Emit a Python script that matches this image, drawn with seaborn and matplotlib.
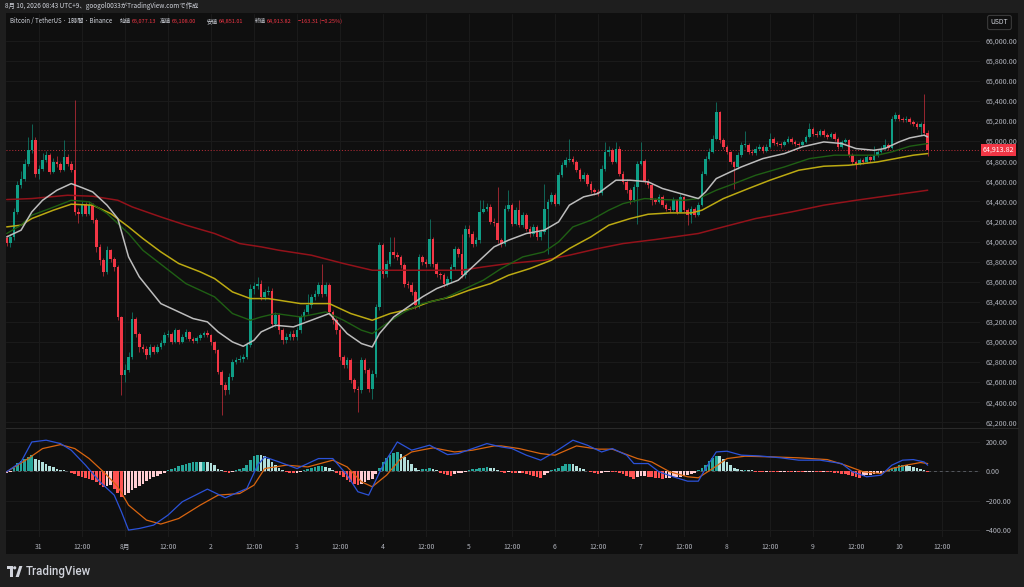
import matplotlib
matplotlib.use("Agg")
import numpy as np
import seaborn as sns
from matplotlib import pyplot as plt
from matplotlib.patches import Rectangle, Circle, Polygon

# ---- hourly candles, hours counted from 7/31 00:00 (UTC+9) ----
FIRST_HOUR = -9
FIRST_OPEN = 64040

CLOSES = [
    63990, 64046, 64295, 64561, 64627, 64777, 64909, 65009, 64677,
    64727, 64810, 64860, 64694, 64793, 64770, 64717, 64843, 64777, 64717, 64295, 64279,
    64362, 64279, 64362, 64212, 63947, 63814, 63698, 63913, 63830, 63748, 63249, 62668,
    62718, 62851, 63233, 63083, 62951, 62934, 62868, 62950, 62900, 62950, 62990, 63067,
    63083, 63000, 63116, 63000, 63050, 63100, 63030, 63010, 63040, 63070, 63090, 63070,
    63000, 62917, 62702, 62569, 62519, 62652, 62801, 62824, 62834, 62851, 62967, 63532,
    63560, 63581, 63448, 63498, 63510, 63183, 63266, 63117, 63017, 63050, 63083, 63050,
    63116, 63249, 63299, 63366, 63448, 63482, 63565, 63482, 63565, 63299, 63216, 63117,
    62851, 62768, 62818, 62619, 62536, 62519, 62818, 62718, 62536, 62685, 63349, 63963,
    63681, 63781, 63897, 63864, 63847, 63764, 63581, 63570, 63498, 63366, 63847, 63800,
    63780, 64030, 63781, 63681, 63665, 63581, 63631, 63747, 63930, 63880, 63664, 64129,
    64080, 63980, 64013, 64295, 64328, 64345, 64196, 64180, 64013, 63980, 64328, 64362,
    64179, 64312, 64162, 64262, 64129, 64080, 64146, 64046, 64096, 64328, 64395, 64461,
    64378, 64660, 64760, 64810, 64826, 64793, 64710, 64627, 64660, 64577, 64510, 64494,
    64480, 64727, 64893, 64910, 64793, 64926, 64677, 64594, 64511, 64411, 64544, 64777,
    64800, 64594, 64560, 64411, 64395, 64445, 64362, 64328, 64312, 64411, 64295, 64445,
    64312, 64262, 64328, 64262, 64362, 64677, 64826, 64893, 65026, 65291, 65009, 64943,
    64893, 64793, 64743, 64860, 64959, 64965, 64893, 64880, 64926, 64943, 64900, 64943,
    65026, 64980, 64976, 64960, 64990, 65026, 64995, 64970, 64960, 64990, 65042, 65125,
    65075, 65060, 65100, 65060, 65042, 65075, 65026, 64943, 64993, 65010, 64860, 64793,
    64777, 64810, 64790, 64843, 64815, 64860, 64893, 64926, 64960, 64930, 65225, 65258,
    65225, 65210, 65225, 65192, 65175, 65142, 65175, 65077, 64913.82,
]

HIGHS = [
    64070, 64080, 64330, 64600, 64700, 64820, 65042, 65175, 65040,
    64760, 64880, 64900, 64880, 64830, 64850, 64790, 65009, 64870, 64800, 65407, 64330,
    64400, 64390, 64400, 64380, 64230, 63980, 63840, 63960, 63930, 63850, 63770, 63260,
    62780, 62900, 63300, 63250, 63100, 62980, 62960, 62980, 62970, 62980, 63020, 63100,
    63120, 63100, 63140, 63130, 63080, 63130, 63110, 63050, 63060, 63090, 63110, 63120,
    63080, 63010, 62930, 62720, 62600, 62690, 62830, 62850, 62870, 62880, 63000, 63580,
    63600, 63650, 63620, 63530, 63560, 63540, 63300, 63290, 63140, 63090, 63110, 63120,
    63150, 63280, 63330, 63480, 63480, 63520, 63600, 63780, 63600, 63590, 63320, 63240,
    63140, 62870, 62850, 62840, 62640, 62560, 62850, 62840, 62740, 62720, 63380, 64000,
    63990, 63820, 64046, 64046, 63900, 63870, 63790, 63610, 63600, 63520, 63880, 63870,
    63830, 64229, 64050, 63800, 63700, 63690, 63660, 63780, 63960, 63950, 64080, 64160,
    64160, 64100, 64050, 64411, 64411, 64380, 64370, 64230, 64544, 64040, 64360, 64511,
    64380, 64340, 64411, 64290, 64280, 64150, 64170, 64160, 64120, 64577, 64420, 64490,
    64480, 64690, 64790, 64840, 65026, 64850, 64810, 64730, 64690, 64680, 64600, 64530,
    64520, 64760, 64992, 64950, 64930, 64990, 64950, 64700, 64620, 64530, 64570, 64800,
    64992, 64820, 64620, 64580, 64430, 64470, 64460, 64380, 64350, 64440, 64420, 64470,
    64450, 64330, 64350, 64340, 64390, 64700, 64850, 64930, 65060, 65391, 65300, 65030,
    64960, 64900, 64800, 64890, 64990, 65100, 64980, 64920, 64950, 64970, 64960, 64970,
    65080, 65040, 65000, 64990, 65010, 65050, 65040, 65010, 64990, 65010, 65060, 65182,
    65140, 65100, 65120, 65120, 65080, 65090, 65090, 65040, 65010, 65030, 65020, 64880,
    64810, 64830, 64830, 64860, 64850, 64950, 64920, 64950, 65020, 64980, 65250, 65290,
    65270, 65240, 65250, 65240, 65210, 65190, 65190, 65470, 65108,
]

LOWS = [
    63960, 63950, 64020, 64270, 64530, 64600, 64750, 64880, 64640,
    64620, 64700, 64790, 64670, 64680, 64740, 64690, 64700, 64750, 64690, 64260, 64180,
    64250, 64250, 64260, 64180, 63900, 63770, 63660, 63680, 63800, 63710, 63220, 62469,
    62600, 62700, 62830, 63050, 62900, 62900, 62830, 62850, 62880, 62890, 62930, 62970,
    63050, 62980, 62990, 62980, 62990, 63030, 63010, 62990, 62990, 63020, 63050, 63050,
    62970, 62890, 62680, 62270, 62470, 62480, 62620, 62780, 62800, 62800, 62830, 62950,
    63480, 63530, 63420, 63420, 63470, 63150, 63150, 63080, 62980, 62990, 63020, 63020,
    63020, 63090, 63220, 63280, 63340, 63420, 63460, 63450, 63460, 63270, 63180, 63080,
    62820, 62740, 62740, 62590, 62500, 62303, 62490, 62690, 62500, 62436, 62650, 63320,
    63640, 63650, 63760, 63840, 63820, 63740, 63550, 63540, 63470, 63330, 63340, 63770,
    63750, 63760, 63750, 63650, 63630, 63550, 63560, 63600, 63720, 63850, 63640, 63640,
    64050, 63950, 63960, 63990, 64280, 64300, 64170, 64150, 63990, 63950, 63960, 64300,
    64150, 64160, 64140, 64140, 64100, 64050, 64060, 64020, 64020, 64080, 63880, 64370,
    64350, 64360, 64640, 64740, 64790, 64770, 64690, 64600, 64600, 64550, 64480, 64460,
    64450, 64460, 64700, 64850, 64770, 64780, 64650, 64570, 64480, 64378, 64390, 64179,
    64760, 64570, 64530, 64360, 64370, 64380, 64340, 64300, 64290, 64300, 64270, 64290,
    64290, 64162, 64180, 64240, 64250, 64350, 64660, 64810, 64880, 65010, 64980, 64920,
    64870, 64770, 64528, 64720, 64840, 64940, 64870, 64860, 64860, 64910, 64880, 64890,
    64930, 64960, 64950, 64930, 64950, 64980, 64970, 64950, 64940, 64950, 64980, 65030,
    65050, 65040, 65050, 65040, 65020, 65030, 65000, 64920, 64930, 64980, 64840, 64770,
    64727, 64760, 64770, 64780, 64790, 64800, 64840, 64880, 64910, 64910, 64920, 65200,
    65200, 65190, 65190, 65170, 65150, 65120, 65060, 65060, 64851,
]

# moving averages (hour, price)
WHITE_HOURS = [-9, -5, -2, 1, 5, 9, 12, 15, 19, 22, 25, 28, 34, 38, 43, 47, 50, 54, 57, 60,
               62, 66, 71, 76, 81, 86, 90, 93, 95, 99, 103, 107, 111, 117, 122, 127, 131, 136,
               141, 145, 148, 152, 156, 161, 165, 170, 174, 179, 184, 186, 189, 193, 196, 202,
               208, 213, 219, 224, 228, 233, 236, 240, 243, 247, 248]
WHITE_VALUES = [64046, 64113, 64295, 64411, 64511, 64577, 64537, 64494, 64362, 64229, 63847,
                63648, 63382, 63316, 63233, 63200, 63100, 63000, 62957, 63017, 63100, 63166,
                63150, 63216, 63283, 63083, 62984, 62950, 63083, 63249, 63349, 63449, 63532,
                63615, 63781, 63947, 64013, 64080, 64113, 64196, 64362, 64445, 64478, 64611,
                64611, 64594, 64528, 64478, 64428, 64494, 64627, 64694, 64743, 64826, 64876,
                64943, 64992, 64976, 64926, 64909, 64926, 64992, 65032, 65059, 65042]

GREEN_HOURS = [-9, -5, -2, 3, 9, 14, 19, 25, 29, 35, 41, 49, 54, 59, 62, 66, 73, 80, 85, 90,
               93, 97, 102, 107, 113, 118, 124, 129, 135, 141, 145, 149, 154, 159, 163, 169,
               174, 180, 184, 189, 194, 200, 208, 215, 222, 228, 234, 238, 243, 248]
GREEN_VALUES = [64080, 64163, 64262, 64328, 64411, 64395, 64279, 64080, 63913, 63747, 63581,
                63449, 63283, 63216, 63249, 63283, 63249, 63299, 63216, 63117, 63083, 63183,
                63299, 63382, 63432, 63515, 63615, 63731, 63847, 63897, 63996, 64146, 64212,
                64312, 64378, 64428, 64418, 64411, 64428, 64511, 64577, 64660, 64743, 64826,
                64860, 64860, 64860, 64893, 64949, 64976]

YELLOW_HOURS = [-9, -5, -2, 4, 9, 15, 20, 25, 29, 34, 39, 45, 49, 54, 59, 64, 73, 81, 87, 93,
                98, 104, 109, 115, 120, 126, 131, 137, 143, 148, 154, 159, 165, 170, 176, 182,
                185, 191, 198, 204, 212, 219, 226, 234, 239, 244, 248]
YELLOW_VALUES = [64146, 64163, 64229, 64312, 64372, 64362, 64279, 64146, 64030, 63897, 63781,
                 63698, 63631, 63498, 63432, 63432, 63382, 63382, 63283, 63216, 63283, 63332,
                 63399, 63449, 63515, 63581, 63664, 63731, 63814, 63930, 64046, 64163, 64229,
                 64272, 64285, 64285, 64312, 64428, 64528, 64611, 64710, 64750, 64760, 64793,
                 64826, 64860, 64876]

RED_HOURS = [-9, -2, 8, 15, 22, 26, 34, 41, 49, 56, 62, 67, 76, 85, 93, 101, 110, 118, 124,
             131, 141, 148, 156, 163, 172, 184, 191, 200, 210, 219, 228, 238, 248]
RED_VALUES = [64418, 64428, 64461, 64451, 64411, 64345, 64245, 64163, 64080, 63980, 63947,
              63913, 63864, 63781, 63714, 63714, 63714, 63714, 63747, 63781, 63814, 63864,
              63930, 63980, 64020, 64080, 64146, 64229, 64295, 64362, 64411, 64461, 64511]

# MACD pane
MACD_HOURS = [-9, -5, -2, 2, 6, 9, 13, 17, 21, 23, 25, 28, 32, 36, 40, 47, 52, 58, 61, 63, 67,
              72, 78, 82, 86, 89, 92, 96, 100, 104, 109, 114, 117, 121, 125, 129, 132, 136,
              140, 144, 149, 153, 157, 160, 164, 166, 170, 173, 177, 181, 184, 186, 189, 192,
              196, 201, 207, 212, 218, 224, 227, 231, 235, 238, 241, 244, 247, 248]
MACD_VALUES = [-4, 63, 199, 211, 188, 143, 41, -72, -163, -276, -401, -390, -367, -299, -208,
               -122, -181, -118, 41, 97, 63, 18, 86, 86, -27, -140, -163, 40, 199, 143, 177,
               113, 120, 154, 188, 165, 154, 109, 75, 131, 211, 177, 131, 154, 109, 52, 52, -4,
               -38, -68, -68, 18, 131, 136, 109, 104, 91, 75, 75, 52, -4, -38, -27, 41, 75, 79,
               63, 41]

SIGNAL_HOURS = [-9, -3, 1, 6, 10, 14, 18, 22, 25, 30, 34, 39, 45, 50, 56, 60, 63, 69, 75, 82,
                86, 90, 93, 97, 101, 104, 110, 116, 121, 127, 129, 134, 140, 144, 150, 156,
                160, 167, 171, 176, 181, 184, 188, 192, 197, 205, 212, 220, 225, 230, 235,
                238, 242, 246, 248]
SIGNAL_VALUES = [-4, 86, 154, 181, 154, 86, -4, -106, -231, -333, -360, -322, -231, -163, -152,
                 -95, 18, 41, 29, 75, 29, -72, -106, -27, 86, 131, 159, 131, 143, 172, 172, 154,
                 120, 109, 172, 150, 150, 86, 63, -4, -38, -45, 18, 86, 102, 97, 91, 79, 41, -4,
                 -16, 18, 41, 59, 52]

HIST = [
    -9, -5, 23, 57, 68, 86, 97, 109, 86,
    75, 63, 52, 36, 29, 18, 11, 7, 2, -10, -20, -30, -38, -45, -55, -62, -75, -95, -105,
    -100, -95, -120, -150, -175,
    -165, -150, -130, -115, -100, -85, -70, -55, -40, -30, -20, -10, 5, 15, 25, 35, 45, 52,
    58, 62, 63, 62, 62, 60,
    55, 40, 15, 5, -8, -12, -5, 10, 18, 25, 40, 75, 105, 113, 110, 100, 85, 65, 45, 25, 10,
    -5, -10, -15,
    -12, -5, 8, 15, 22, 28, 32, 35, 30, 20, 10, -10, -25, -40, -60, -75, -90, -95, -90, -75,
    -60, -55, -20, 20,
    60, 90, 110, 125, 130, 115, 95, 75, 50, 25, 10, 15, 18, 20, 18, 10, -10, -18, -25, -30,
    -20, -15, -10, -5,
    8, 12, 18, 22, 25, 28, 25, 20, 7, -5, -12, -8, -10, -12, -10, -15, -20, -25, -32, -40,
    -45, -25, -10, 5,
    15, 25, 38, 48, 52, 48, 38, 25, 12, 3, -5, -12, -18, -10, -5, -3, -5, -8, -12, -20, -30,
    -42, -50, -40,
    -35, -30, -38, -40, -45, -48, -50, -48, -45, -42, -40, -38, -35, -28, -20, -10, 5, 25,
    45, 70, 90, 105, 100, 80,
    60, 40, 25, 12, 5, 10, 8, 5, -3, -5, -6, -4, -5, -7, -8, -6, -4, -5, -6, -3, -5, -7, -5,
    -4,
    -3, -5, -6, -4, -5, -8, -10, -14, -18, -22, -26, -32, -38, -43, -35, -28, -25, -20, -15,
    -10, -5, 5, 15, 30,
    42, 45, 42, 38, 30, 22, 15, 5, -8,
]

LAST_PRICE = 64913.82

TIME_TICKS = [0, 12, 24, 36, 48, 60, 72, 84, 96, 108, 120, 132, 144, 156, 168, 180, 192, 204,
              216, 228, 240, 252]
TIME_LABELS = ["31", "12:00", "8月", "12:00", "2", "12:00", "3", "12:00", "4", "12:00", "5",
               "12:00", "6", "12:00", "7", "12:00", "8", "12:00", "9", "12:00", "10", "12:00"]
PRICE_TICKS = list(range(62200, 66001, 200))
MACD_TICKS = [200, 0, -200, -400]
MACD_LABELS = ["200.00", "0.00", "\u2212200.00", "\u2212400.00"]

TITLE = "8月 10, 2026 08:43 UTC+9、googol0033がTradingView.comで作成"
SYMBOL = "Bitcoin / TetherUS · 1時間 · Binance"
OHLC_NAMES = ["始値", "高値", "安値", "終値"]
OHLC_VALUES = ["65,077.13", "65,108.00", "64,851.01", "64,913.82"]
CHANGE = "\u2212163.31 (\u22120.25%)"

# ---- colours ----
BG = "#0f0f0f"
FRAME = "#1e1e1e"
GRID = "#1b1b1b"
TEXT = "#b2b5be"
LIGHT = "#d1d4dc"
UP = "#0f9e86"
DOWN = "#f23645"

sns.set_theme(style="dark", rc={"axes.facecolor": BG, "figure.facecolor": FRAME})
plt.rcParams["font.family"] = ["Noto Sans CJK JP", "DejaVu Sans"]

W, H = 1024, 587


def fx(px):
    return px / W


def fy(py):
    return 1 - py / H


fig = plt.figure(figsize=(10.24, 5.87), dpi=100, facecolor=FRAME)
fig.add_artist(Rectangle((fx(6), fy(554)), fx(1018) - fx(6), fy(13) - fy(554),
                         transform=fig.transFigure, facecolor=BG, edgecolor="none", zorder=-5))

ax = fig.add_axes([fx(6), fy(428), fx(980) - fx(6), fy(14) - fy(428)])
ax_m = fig.add_axes([fx(6), fy(537), fx(980) - fx(6), fy(428) - fy(537)])
for a in (ax, ax_m):
    a.set_facecolor(BG)
    for s in a.spines.values():
        s.set_visible(False)
    a.set_xlim(-9.2, 262.6)
    a.set_xticks(TIME_TICKS)
    a.grid(True, color=GRID, linewidth=0.7)
    a.set_axisbelow(True)
    a.yaxis.tick_right()
    a.tick_params(length=0, labelcolor=TEXT)

# ---- candles ----
closes = np.array(CLOSES, dtype=float)
opens = np.r_[FIRST_OPEN, closes[:-1]]
hours = FIRST_HOUR + np.arange(len(closes))
cols = np.where(closes >= opens, UP, DOWN)
ax.vlines(hours, LOWS, HIGHS, colors=cols, linewidth=0.7, alpha=0.6, zorder=3)
ax.bar(hours, np.maximum(np.abs(closes - opens), 8), bottom=np.minimum(opens, closes),
       width=0.72, color=cols, linewidth=0, zorder=4)

for hrs, vals, c, lw in [
    (RED_HOURS, RED_VALUES, "#93121a", 1.1),
    (YELLOW_HOURS, YELLOW_VALUES, "#bcaa12", 1.1),
    (GREEN_HOURS, GREEN_VALUES, "#1f5f14", 1.0),
    (WHITE_HOURS, WHITE_VALUES, "#bdbdbd", 1.1),
]:
    sns.lineplot(x=hrs, y=vals, ax=ax, color=c, linewidth=lw, zorder=5)

ax.axhline(LAST_PRICE, color=DOWN, linestyle=(0, (1, 2)), linewidth=0.7, alpha=0.8, zorder=2)
ax.set_ylim(62143, 66266)
ax.set_yticks(PRICE_TICKS, labels=[f"{p:,.2f}" for p in PRICE_TICKS])
ax.tick_params(axis="y", labelsize=5.1, pad=4)
ax.tick_params(axis="x", labelbottom=False)
ax.set_xlabel("")
ax.set_ylabel("")
ax.text(1.003, LAST_PRICE, f"{LAST_PRICE:,.2f}", transform=ax.get_yaxis_transform(),
        ha="left", va="center", fontsize=5.1, color="white", zorder=10,
        bbox=dict(boxstyle="square,pad=0.28", facecolor=DOWN, edgecolor="none"))

# ---- MACD ----
hist = np.array(HIST, dtype=float)
prev = np.r_[hist[0], hist[:-1]]
hcols = np.where(hist >= 0,
                 np.where(hist >= prev, "#26a69a", "#b2dfdb"),
                 np.where(hist < prev, "#ff5252", "#ffcdd2"))
ax_m.bar(hours, hist, width=0.75, color=hcols, linewidth=0, zorder=2)
sns.lineplot(x=MACD_HOURS, y=MACD_VALUES, ax=ax_m, color="#2b52d8", linewidth=0.9, zorder=4)
sns.lineplot(x=SIGNAL_HOURS, y=SIGNAL_VALUES, ax=ax_m, color="#d9650f", linewidth=0.9, zorder=3)
ax_m.axhline(0, color="#55585f", linestyle=(0, (3, 3)), linewidth=0.7, zorder=1)
ax_m.set_ylim(-448, 294)
ax_m.set_yticks(MACD_TICKS, labels=MACD_LABELS)
ax_m.set_xticks(TIME_TICKS, labels=TIME_LABELS)
ax_m.tick_params(axis="y", labelsize=5.1, pad=4)
ax_m.tick_params(axis="x", labelsize=4.9, pad=4.5)
ax_m.set_xlabel("")
ax_m.set_ylabel("")

# ---- overlay: separators, header, logo ----
ov = fig.add_axes([0, 0, 1, 1])
ov.set_xlim(0, W)
ov.set_ylim(H, 0)
ov.axis("off")
ov.plot([6, 1018], [428, 428], color="#2a2a2a", linewidth=0.8)

ov.text(5, 6.5, TITLE, color=LIGHT, fontsize=4.6, va="center", ha="left")

# symbol line, pieces placed at the spots they take in the screenshot
ov.text(10, 21.5, SYMBOL, color=LIGHT, fontsize=4.4, va="center", ha="left")
for name, val, xn, xv in zip(OHLC_NAMES, OHLC_VALUES, [119.5, 159.5, 207, 255],
                             [131.5, 171.5, 218.5, 266.5]):
    ov.text(xn, 21.5, name, color=LIGHT, fontsize=4.0, va="center", ha="left")
    ov.text(xv, 21.5, val, color=DOWN, fontsize=4.0, va="center", ha="left")
ov.text(298, 21.5, CHANGE, color=DOWN, fontsize=4.0, va="center", ha="left")

ov.text(999.5, 22.5, "USDT", color=LIGHT, fontsize=4.9, ha="center", va="center",
        bbox=dict(boxstyle="round,pad=0.45,rounding_size=0.3", facecolor=BG,
                  edgecolor="#3a3a3a", linewidth=0.8))

ov.add_patch(Polygon([(7, 566), (12.6, 566), (12.6, 577), (9.9, 577), (9.9, 569.3), (7, 569.3)],
                     closed=True, facecolor=LIGHT, edgecolor="none"))
ov.add_patch(Circle((14.7, 567.8), 1.6, facecolor=LIGHT, edgecolor="none"))
ov.add_patch(Polygon([(15.6, 577), (18.8, 577), (22.4, 566), (19.3, 566)],
                     closed=True, facecolor=LIGHT, edgecolor="none"))
ov.text(26, 571.5, "TradingView", color=LIGHT, fontsize=8.3, va="center", ha="left",
        family=["Roboto", "DejaVu Sans"], fontweight="medium")

fig.savefig("out.png", dpi=100, facecolor=fig.get_facecolor())
